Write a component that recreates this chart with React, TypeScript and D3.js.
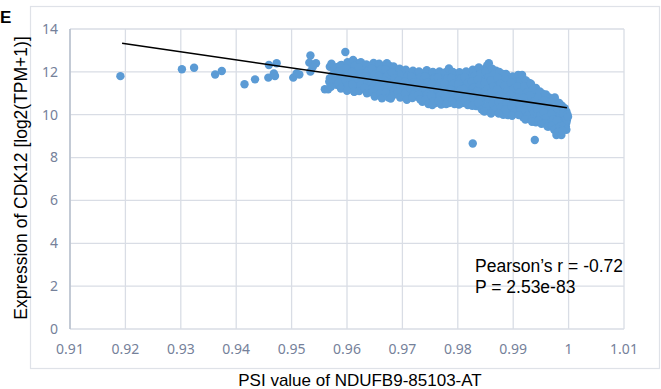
import React from "react";
import * as d3 from "d3";

const xTicks = [0.91, 0.92, 0.93, 0.94, 0.95, 0.96, 0.97, 0.98, 0.99, 1, 1.01];
const yTicks = [0, 2, 4, 6, 8, 10, 12, 14];

// sparse samples (left side)
const sparsePoints: [number, number][] = [
  [0.9191, 11.8], [0.9302, 12.12], [0.9324, 12.19], [0.9362, 11.88], [0.9374, 12.04],
  [0.9415, 11.42], [0.9434, 11.65], [0.9458, 11.73], [0.9459, 12.32], [0.9468, 11.93],
  [0.9473, 12.4], [0.947, 11.81], [0.9503, 11.73], [0.9509, 11.93], [0.9514, 11.88],
  [0.9534, 12.76], [0.9532, 12.43], [0.9544, 12.4], [0.9534, 12.01], [0.9538, 12.22],
  [0.956, 11.19], [0.9566, 11.19], [0.9569, 12.24], [0.9569, 11.7], [0.9568, 11.54],
  [0.9587, 12.01], [0.959, 12.32], [0.9596, 11.78], [0.9599, 11.23], [0.9584, 11.62],
  [0.9613, 11.07],
];

// dense cloud
const densePoints: [number, number][] = [
  [0.9572, 12.38], [0.9577, 12.1], [0.9574, 11.85], [0.9578, 11.55], [0.9571, 11.3],
  [0.9588, 12.3], [0.9585, 12.02], [0.959, 11.75], [0.9584, 11.48], [0.9589, 11.22],
  [0.9597, 12.93],
  [0.9601, 12.45], [0.9598, 12.18], [0.9603, 11.9], [0.9597, 11.62], [0.9602, 11.35], [0.96, 11.12],
  [0.9611, 12.55], [0.9614, 12.27], [0.9609, 12.0], [0.9615, 11.7], [0.961, 11.42], [0.9613, 11.08],
  [0.9625, 12.45], [0.9621, 12.2], [0.9626, 11.92], [0.962, 11.65], [0.9624, 11.38], [0.9622, 11.1],
  [0.9635, 12.35], [0.9638, 12.08], [0.9633, 11.8], [0.9637, 11.52], [0.9632, 11.25], [0.9636, 11.0],
  [0.9648, 12.42], [0.9645, 12.15], [0.965, 11.88], [0.9644, 11.6], [0.9649, 11.32], [0.9646, 11.05], [0.965, 10.85],
  [0.9658, 12.38], [0.9661, 12.1], [0.9657, 11.82], [0.9662, 11.55], [0.9656, 11.28], [0.966, 11.0], [0.9663, 10.77],
  [0.9672, 12.4], [0.9669, 12.12], [0.9674, 11.85], [0.9668, 11.58], [0.9673, 11.3], [0.967, 11.03], [0.9675, 10.8],
  [0.9684, 12.25], [0.9681, 11.98], [0.9686, 11.7], [0.968, 11.42], [0.9685, 11.15], [0.9682, 10.88], [0.9679, 10.76],
  [0.9695, 12.15], [0.9698, 11.88], [0.9693, 11.6], [0.9697, 11.33], [0.9692, 11.06], [0.9696, 10.8],
  [0.9706, 12.1], [0.9709, 11.82], [0.9704, 11.55], [0.971, 11.28], [0.9705, 11.0], [0.9708, 10.7],
  [0.9719, 12.05], [0.9716, 11.78], [0.9721, 11.5], [0.9715, 11.22], [0.972, 10.95], [0.9718, 10.78],
  [0.973, 12.02], [0.9733, 11.75], [0.9728, 11.48], [0.9734, 11.2], [0.9729, 10.92], [0.9732, 10.72],
  [0.9744, 12.08], [0.9741, 11.8], [0.9746, 11.52], [0.974, 11.25], [0.9745, 10.98], [0.9742, 10.7], [0.9747, 10.5],
  [0.9755, 12.0], [0.9758, 11.72], [0.9753, 11.45], [0.9757, 11.18], [0.9752, 10.9], [0.9756, 10.62], [0.9754, 10.45],
  [0.9767, 12.02], [0.9764, 11.75], [0.9769, 11.48], [0.9763, 11.2], [0.9768, 10.92], [0.9765, 10.65], [0.977, 10.48],
  [0.9778, 11.98], [0.9781, 11.7], [0.9776, 11.42], [0.978, 11.15], [0.9777, 10.88], [0.9782, 10.6], [0.9779, 10.5],
  [0.9784, 12.16],
  [0.9791, 12.0], [0.9788, 11.72], [0.9793, 11.45], [0.9787, 11.18], [0.9792, 10.9], [0.979, 10.62], [0.9794, 10.5],
  [0.9803, 11.98], [0.9806, 11.7], [0.9801, 11.42], [0.9805, 11.15], [0.98, 10.88], [0.9804, 10.6], [0.9802, 10.48],
  [0.9815, 12.02], [0.9812, 11.75], [0.9817, 11.48], [0.9811, 11.2], [0.9816, 10.92], [0.9813, 10.65], [0.9818, 10.45],
  [0.9827, 12.1], [0.983, 11.82], [0.9825, 11.55], [0.9829, 11.28], [0.9824, 11.0], [0.9828, 10.72], [0.9826, 10.42],
  [0.9827, 8.66],
  [0.9838, 12.2], [0.9841, 11.92], [0.9836, 11.65], [0.984, 11.38], [0.9835, 11.1], [0.9842, 10.82], [0.9837, 10.55], [0.9843, 10.25],
  [0.9853, 12.3], [0.985, 12.02], [0.9855, 11.75], [0.9849, 11.48], [0.9854, 11.2], [0.9851, 10.92], [0.9856, 10.65], [0.9852, 10.38], [0.9848, 10.15],
  [0.9856, 12.4],
  [0.9862, 12.15], [0.9865, 11.88], [0.986, 11.6], [0.9864, 11.32], [0.9861, 11.05], [0.9866, 10.78], [0.9863, 10.5], [0.9867, 10.22], [0.986, 10.05],
  [0.9875, 12.0], [0.9872, 11.72], [0.9877, 11.45], [0.9871, 11.18], [0.9876, 10.9], [0.9873, 10.62], [0.9878, 10.35], [0.9874, 10.05],
  [0.9887, 11.9], [0.989, 11.62], [0.9885, 11.35], [0.9889, 11.08], [0.9884, 10.8], [0.9888, 10.52], [0.9886, 10.25], [0.989, 9.98],
  [0.9899, 11.78], [0.9896, 11.5], [0.9901, 11.22], [0.9895, 10.95], [0.99, 10.68], [0.9897, 10.4], [0.9902, 10.12], [0.9898, 9.95],
  [0.9909, 11.85], [0.9913, 11.6], [0.9908, 11.32], [0.9912, 11.05], [0.9907, 10.78], [0.9911, 10.5], [0.9914, 10.22], [0.991, 9.98],
  [0.9916, 11.85],
  [0.9923, 11.6], [0.992, 11.32], [0.9925, 11.05], [0.9919, 10.78], [0.9924, 10.5], [0.9921, 10.22], [0.9926, 9.95], [0.9922, 9.78],
  [0.9932, 11.45], [0.9936, 11.18], [0.9931, 10.9], [0.9937, 10.62], [0.9933, 10.35], [0.9938, 10.08], [0.9934, 9.8], [0.9934, 9.67],
  [0.9939, 8.82],
  [0.9948, 11.08], [0.9945, 10.8], [0.995, 10.52], [0.9944, 10.25], [0.9949, 9.98], [0.9946, 9.72], [0.9951, 9.58],
  [0.9959, 10.95], [0.9956, 10.68], [0.9961, 10.4], [0.9955, 10.12], [0.996, 9.85], [0.9957, 9.6], [0.9962, 9.45],
  [0.9975, 10.8], [0.9968, 10.6], [0.9973, 10.32], [0.9969, 10.05], [0.9972, 9.78], [0.997, 9.5], [0.9974, 9.3],
  [0.9983, 10.55], [0.998, 10.28], [0.9985, 10.0], [0.9979, 9.72], [0.9984, 9.45], [0.9981, 9.2], [0.9978, 9.05], [0.9987, 9.05],
  [0.9993, 10.3], [0.999, 10.05], [0.9995, 9.78], [0.9992, 9.5], [0.9996, 9.3], [0.9989, 9.25],
  [0.9998, 10.0], [0.9997, 9.75], [0.9999, 9.9],
];

// overlapping samples between the columns above
const densePoints2: [number, number][] = [
  [0.9581, 12.22], [0.9582, 11.95], [0.958, 11.68], [0.9581, 11.4],
  [0.9593, 12.15], [0.9594, 11.88], [0.9592, 11.6], [0.9593, 11.35],
  [0.9605, 12.32], [0.9606, 12.05], [0.9604, 11.78], [0.9605, 11.5], [0.9606, 11.25],
  [0.9617, 12.4], [0.9618, 12.12], [0.9616, 11.85], [0.9617, 11.56], [0.9618, 11.25],
  [0.9629, 12.3], [0.963, 12.05], [0.9628, 11.78], [0.9629, 11.5], [0.963, 11.22],
  [0.9641, 12.28], [0.9642, 12.0], [0.964, 11.72], [0.9641, 11.45], [0.9642, 11.15],
  [0.9653, 12.28], [0.9654, 12.0], [0.9652, 11.72], [0.9653, 11.45], [0.9654, 11.18], [0.9652, 10.95],
  [0.9665, 12.25], [0.9666, 11.98], [0.9664, 11.7], [0.9665, 11.42], [0.9666, 11.15], [0.9664, 10.9],
  [0.9677, 12.28], [0.9678, 12.0], [0.9676, 11.72], [0.9677, 11.45], [0.9678, 11.18], [0.9676, 10.92],
  [0.9689, 12.1], [0.969, 11.85], [0.9688, 11.55], [0.9689, 11.28], [0.969, 11.0],
  [0.9701, 11.98], [0.9702, 11.72], [0.97, 11.45], [0.9701, 11.18], [0.9702, 10.92],
  [0.9713, 11.95], [0.9714, 11.68], [0.9712, 11.4], [0.9713, 11.12], [0.9714, 10.85],
  [0.9725, 11.9], [0.9726, 11.62], [0.9724, 11.35], [0.9725, 11.08], [0.9726, 10.85],
  [0.9737, 11.92], [0.9738, 11.62], [0.9736, 11.35], [0.9737, 11.08], [0.9738, 10.82], [0.9736, 10.6],
  [0.9749, 11.88], [0.975, 11.6], [0.9748, 11.32], [0.9749, 11.05], [0.975, 10.78], [0.9748, 10.55],
  [0.9761, 11.88], [0.9762, 11.6], [0.976, 11.32], [0.9761, 11.05], [0.9762, 10.78], [0.976, 10.55],
  [0.9773, 11.85], [0.9774, 11.58], [0.9772, 11.3], [0.9773, 11.02], [0.9774, 10.75], [0.9772, 10.55],
  [0.9785, 11.85], [0.9786, 11.58], [0.9784, 11.3], [0.9785, 11.02], [0.9786, 10.75], [0.9784, 10.55],
  [0.9797, 11.85], [0.9798, 11.58], [0.9796, 11.3], [0.9797, 11.02], [0.9798, 10.75], [0.9796, 10.55],
  [0.9809, 11.88], [0.981, 11.6], [0.9808, 11.32], [0.9809, 11.05], [0.981, 10.78], [0.9808, 10.55],
  [0.9821, 11.92], [0.9822, 11.65], [0.982, 11.38], [0.9821, 11.1], [0.9822, 10.82], [0.982, 10.55],
  [0.9833, 12.0], [0.9834, 11.72], [0.9832, 11.45], [0.9833, 11.18], [0.9834, 10.9], [0.9832, 10.62], [0.9833, 10.4],
  [0.9845, 12.1], [0.9846, 11.82], [0.9844, 11.55], [0.9845, 11.28], [0.9846, 11.0], [0.9844, 10.72], [0.9845, 10.42], [0.9846, 10.2],
  [0.9857, 12.15], [0.9858, 11.88], [0.9856, 11.6], [0.9857, 11.32], [0.9858, 11.05], [0.9856, 10.78], [0.9857, 10.5], [0.9858, 10.25],
  [0.9869, 12.05], [0.987, 11.8], [0.9868, 11.52], [0.9869, 11.25], [0.987, 10.98], [0.9868, 10.7], [0.9869, 10.45], [0.987, 10.15],
  [0.9881, 11.9], [0.9882, 11.62], [0.988, 11.35], [0.9881, 11.08], [0.9882, 10.8], [0.988, 10.52], [0.9881, 10.25], [0.9882, 10.0],
  [0.9893, 11.7], [0.9894, 11.42], [0.9892, 11.15], [0.9893, 10.88], [0.9894, 10.6], [0.9892, 10.32], [0.9893, 10.05],
  [0.9905, 11.65], [0.9906, 11.4], [0.9904, 11.12], [0.9905, 10.85], [0.9906, 10.58], [0.9904, 10.3], [0.9905, 10.05],
  [0.9917, 11.7], [0.9918, 11.45], [0.9916, 11.18], [0.9917, 10.9], [0.9918, 10.62], [0.9916, 10.35], [0.9917, 10.08], [0.9918, 9.88],
  [0.9929, 11.48], [0.993, 11.2], [0.9928, 10.92], [0.9929, 10.65], [0.993, 10.38], [0.9928, 10.1], [0.9929, 9.85],
  [0.9941, 11.25], [0.9942, 10.98], [0.994, 10.7], [0.9941, 10.42], [0.9942, 10.15], [0.994, 9.88], [0.9941, 9.65],
  [0.9953, 10.98], [0.9954, 10.7], [0.9952, 10.42], [0.9953, 10.15], [0.9954, 9.88], [0.9952, 9.62],
  [0.9965, 10.8], [0.9966, 10.52], [0.9964, 10.25], [0.9965, 9.98], [0.9966, 9.7], [0.9964, 9.45],
  [0.9977, 10.62], [0.9978, 10.42], [0.9976, 10.15], [0.9977, 9.88], [0.9978, 9.6], [0.9976, 9.35],
  [0.9988, 10.42], [0.9989, 10.15], [0.9987, 9.88], [0.9988, 9.6], [0.9989, 9.35],
  [0.9996, 10.15], [0.9996, 9.62], [0.9995, 9.45],
];

const trendX = [0.9194, 0.9997];
const trendY = [13.33, 10.33];

const statLines = ["Pearson\u2019s r = -0.72", "P = 2.53e-83"];

export default function App() {
  const W = 661, H = 389;
  const x = d3.scaleLinear().domain([0.91, 1.01]).range([70, 624]);
  const y = d3.scaleLinear().domain([0, 14]).range([329, 29]);
  const pts = [...sparsePoints, ...densePoints2, ...densePoints];
  const line = d3.line<number>().x((d) => x(trendX[d])).y((d) => y(trendY[d]));
  const font = "'Liberation Sans', Arial, sans-serif";
  const tickFont = "'Noto Sans', sans-serif";
  const tickColor = "#75819a";
  const gridColor = "#d9dde5";
  return (
    <svg width={W} height={H} style={{ position: "absolute", left: 0, top: 0 }} fontFamily={font}>
      <rect x={0} y={0} width={W} height={H} fill="#fff" />
      <rect x={30.5} y={6.5} width={629} height={362} fill="none" stroke="#dfe2e8" strokeWidth={1.2} />
      {xTicks.map((t) => (
        <line key={"gx" + t} x1={x(t)} x2={x(t)} y1={y(14)} y2={y(0)} stroke={gridColor} strokeWidth={1.3} />
      ))}
      {yTicks.map((t) => (
        <line key={"gy" + t} x1={x(0.91)} x2={x(1.01)} y1={y(t)} y2={y(t)} stroke={gridColor} strokeWidth={1.3} />
      ))}
      <line x1={x(0.91)} x2={x(0.91)} y1={y(14)} y2={y(0)} stroke="#b7bfcc" strokeWidth={1.5} />
      {yTicks.map((t) => (
        <text key={"ty" + t} x={58} y={y(t)} dy="0.35em" textAnchor="end" fontSize={14} fill={tickColor} fontFamily={tickFont}>
          {t}
        </text>
      ))}
      {xTicks.map((t) => (
        <text key={"tx" + t} x={x(t)} y={354} textAnchor="middle" fontSize={14} fill={tickColor} fontFamily={tickFont}>
          {d3.format("~g")(t)}
        </text>
      ))}
      {pts.map((p, i) => (
        <circle key={i} cx={x(p[0])} cy={y(p[1])} r={4.2} fill="#5b9bd5" />
      ))}
      <path d={line([0, 1]) || ""} stroke="#000" strokeWidth={1.5} fill="none" />
      {statLines.map((s, i) => (
        <text key={s} x={475} y={272 + i * 21} fontSize={17.5} fill="#000">
          {s}
        </text>
      ))}
      <text x={360} y={386} textAnchor="middle" fontSize={17} fill="#000">
        PSI value of NDUFB9-85103-AT
      </text>
      <text transform={`translate(27,178) rotate(-90)`} textAnchor="middle" fontSize={17.5} fill="#000">
        Expression of CDK12 [log2(TPM+1)]
      </text>
      <text x={0} y={23} fontSize={17} fontWeight="bold" fill="#000">
        E
      </text>
    </svg>
  );
}
